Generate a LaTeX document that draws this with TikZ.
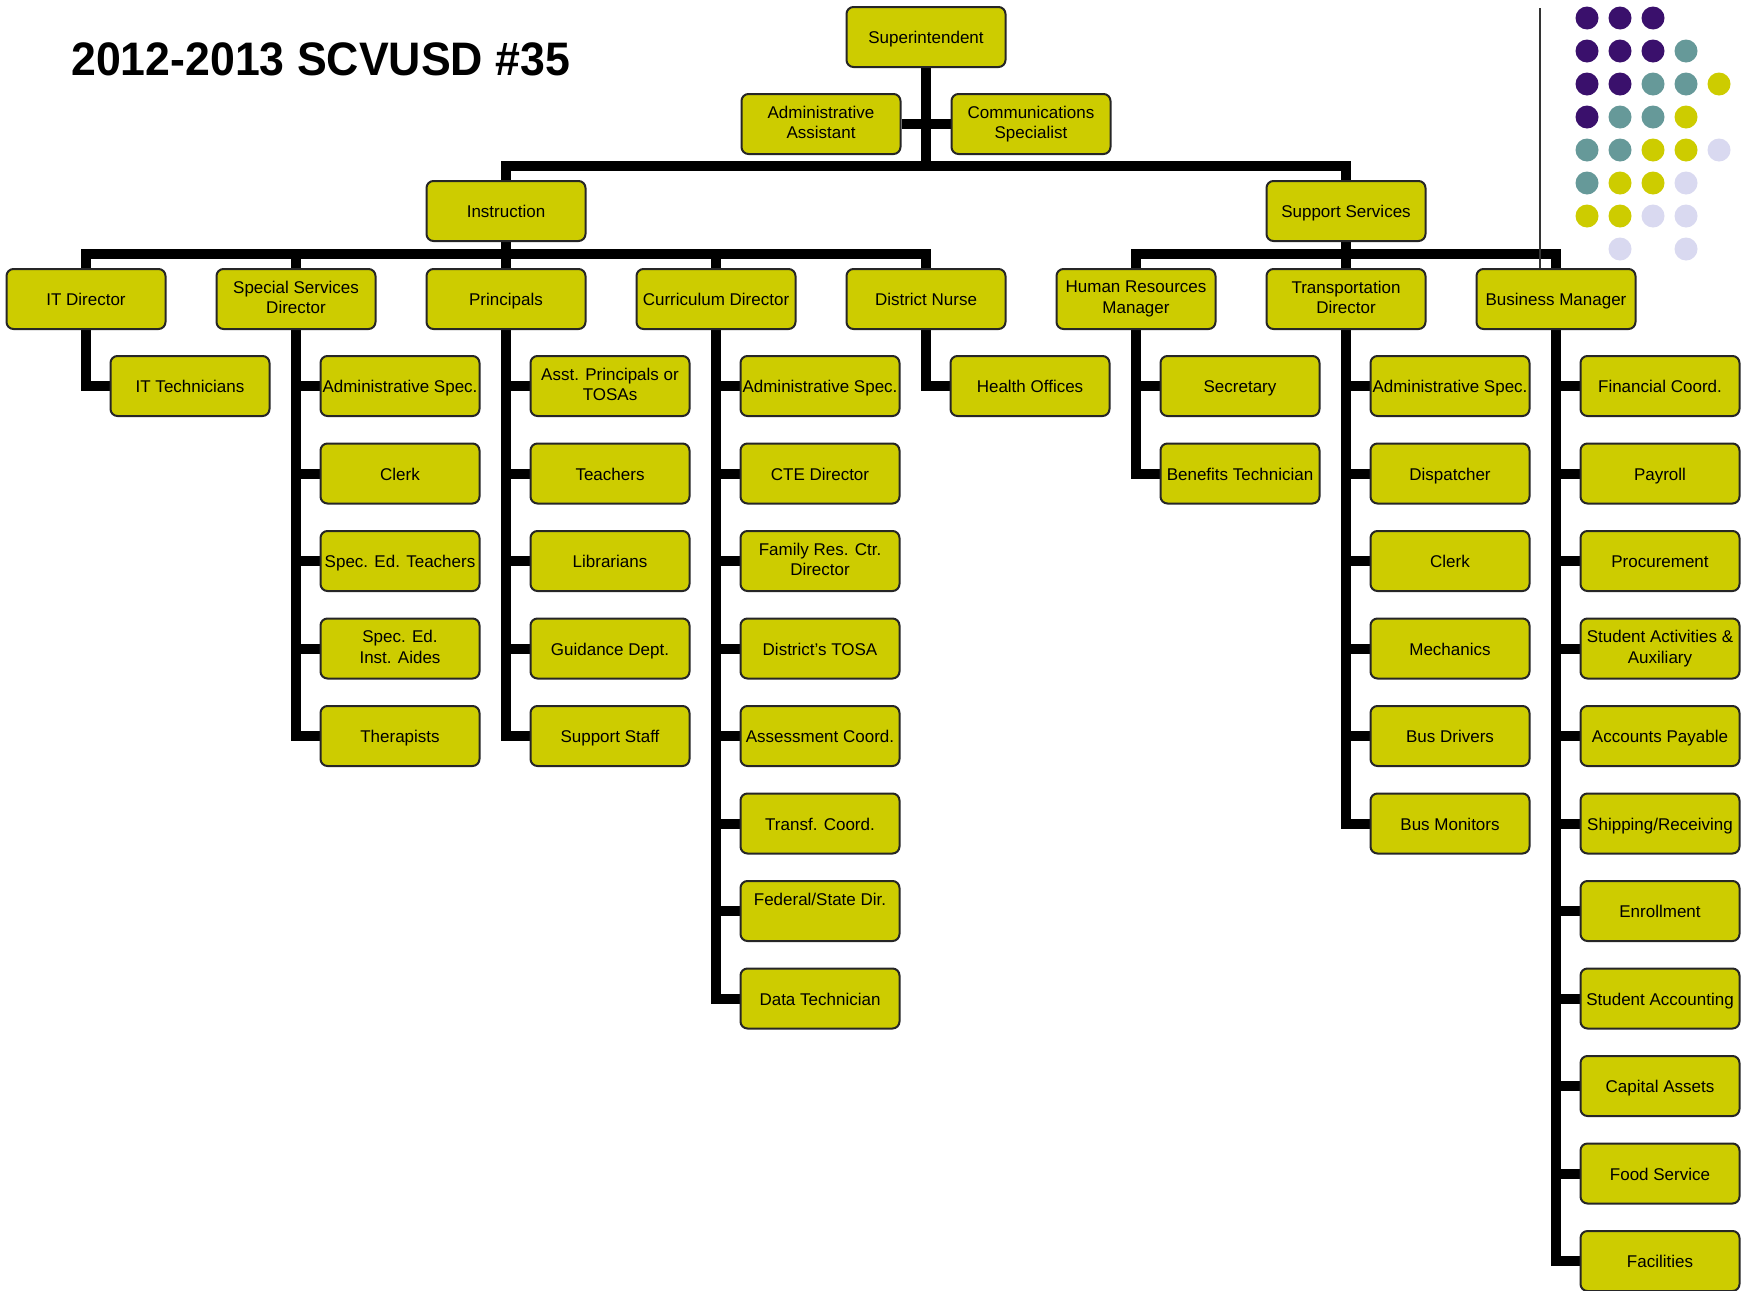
\documentclass[tikz,border=0pt]{standalone}
\usepackage{fontspec}
\setmainfont{Liberation Sans}
\definecolor{boxfill}{RGB}{205,204,0}
\definecolor{dotP}{RGB}{58,16,108}
\definecolor{dotT}{RGB}{102,153,153}
\definecolor{dotY}{RGB}{205,204,0}
\definecolor{dotL}{RGB}{217,217,240}
\pgfdeclarelayer{bg}
\pgfdeclarelayer{lines}
\pgfsetlayers{bg,lines,main}
\newcommand{\boxstrut}{\rule[-3.65pt]{0pt}{20.5pt}}
\tikzset{
  box/.style={draw=black!85, line width=2pt, fill=boxfill, rounded corners=7pt,
    minimum width=159pt, minimum height=60pt, inner xsep=0pt, inner ysep=1pt,
    align=center, font=\fontsize{17}{20.5}\selectfont, text=black,
    execute at begin node={\boxstrut}, execute at end node={\boxstrut}},
  conn/.style={line width=10pt, black},
}
\begin{document}
\begin{tikzpicture}[x=1pt,y=-1pt]
\begin{pgfonlayer}{bg}
\fill[white] (0,0) rectangle (1741,1291);
\end{pgfonlayer}
\useasboundingbox (0,0) rectangle (1741,1291);

% title
\node[anchor=base west, inner sep=0pt, font=\fontsize{47}{50}\bfseries\selectfont, xscale=0.95] (title) at (71,75) {2012-2013 SCVUSD \#35};

% decoration dots
\foreach \c/\r/\col in {0/0/dotP,1/0/dotP,2/0/dotP,
  0/1/dotP,1/1/dotP,2/1/dotP,3/1/dotT,
  0/2/dotP,1/2/dotP,2/2/dotT,3/2/dotT,4/2/dotY,
  0/3/dotP,1/3/dotT,2/3/dotT,3/3/dotY,
  0/4/dotT,1/4/dotT,2/4/dotY,3/4/dotY,4/4/dotL,
  0/5/dotT,1/5/dotY,2/5/dotY,3/5/dotL,
  0/6/dotY,1/6/dotY,2/6/dotL,3/6/dotL,
  1/7/dotL,3/7/dotL}
  \fill[\col] ({1587+33*\c},{18+33*\r}) circle (11.5pt);

% top levels
\node[box] (sup) at (926,37) {Superintendent};
\node[box] (aa) at (821,124) {Administrative\\Assistant};
\node[box] (cs) at (1031,124) {Communications\\Specialist};
\node[box] (ins) at (506,211) {Instruction};
\node[box] (sus) at (1346,211) {Support Services};

\node[box] (itd) at (86,299) {IT Director};
\node[box] (ssd) at (296,299) {Special Services\\Director};
\node[box] (pri) at (506,299) {Principals};
\node[box] (cur) at (716,299) {Curriculum Director};
\node[box] (nur) at (926,299) {District Nurse};
\node[box] (hrm) at (1136,299) {Human Resources\\Manager};
\node[box] (trd) at (1346,299) {Transportation\\Director};
\node[box] (bus) at (1556,299) {Business Manager};

% IT
\node[box] (it1) at (190,386) {IT Technicians};
% Special services
\node[box] (ss1) at (400,386) {Administrative Spec.};
\node[box] (ss2) at (400,473.5) {Clerk};
\node[box] (ss3) at (400,561) {Spec. Ed. Teachers};
\node[box] (ss4) at (400,648.5) {Spec. Ed.\\Inst. Aides};
\node[box] (ss5) at (400,736) {Therapists};
% Principals
\node[box] (pr1) at (610,386) {Asst. Principals or\\TOSAs};
\node[box] (pr2) at (610,473.5) {Teachers};
\node[box] (pr3) at (610,561) {Librarians};
\node[box] (pr4) at (610,648.5) {Guidance Dept.};
\node[box] (pr5) at (610,736) {Support Staff};
% Curriculum
\node[box] (cu1) at (820,386) {Administrative Spec.};
\node[box] (cu2) at (820,473.5) {CTE Director};
\node[box] (cu3) at (820,561) {Family Res. Ctr.\\Director};
\node[box] (cu4) at (820,648.5) {District's TOSA};
\node[box] (cu5) at (820,736) {Assessment Coord.};
\node[box] (cu6) at (820,823.5) {Transf. Coord.};
\node[box] (cu7) at (820,911) {Federal/State Dir.\\\phantom{g}};
\node[box] (cu8) at (820,998.5) {Data Technician};
% Nurse
\node[box] (nu1) at (1030,386) {Health Offices};
% HR
\node[box] (hr1) at (1240,386) {Secretary};
\node[box] (hr2) at (1240,473.5) {Benefits Technician};
% Transportation
\node[box] (tr1) at (1450,386) {Administrative Spec.};
\node[box] (tr2) at (1450,473.5) {Dispatcher};
\node[box] (tr3) at (1450,561) {Clerk};
\node[box] (tr4) at (1450,648.5) {Mechanics};
\node[box] (tr5) at (1450,736) {Bus Drivers};
\node[box] (tr6) at (1450,823.5) {Bus Monitors};
% Business
\node[box] (bu1) at (1660,386) {Financial Coord.};
\node[box] (bu2) at (1660,473.5) {Payroll};
\node[box] (bu3) at (1660,561) {Procurement};
\node[box] (bu4) at (1660,648.5) {Student Activities \&\\Auxiliary};
\node[box] (bu5) at (1660,736) {Accounts Payable};
\node[box] (bu6) at (1660,823.5) {Shipping/Receiving};
\node[box] (bu7) at (1660,911) {Enrollment};
\node[box] (bu8) at (1660,998.5) {Student Accounting};
\node[box] (bu9) at (1660,1086) {Capital Assets};
\node[box] (bu10) at (1660,1173.5) {Food Service};
\node[box] (bu11) at (1660,1261) {Facilities};

% connectors
\begin{pgfonlayer}{lines}
\coordinate (bar1) at (926,166);
\coordinate (bar2) at (506,254);
\coordinate (bar3) at (1346,254);
\draw[conn] (sup.south) -- (bar1);
\draw[conn] (aa.east) -- (cs.west);
\draw[conn] (ins.north) |- (bar1) -| (sus.north);
\draw[conn] (ins.south) -- (bar2);
\draw[conn] (itd.north) |- (bar2) -| (nur.north);
\foreach \n in {ssd,pri,cur} \draw[conn] (\n.north) -- (\n.north |- bar2);
\draw[conn] (sus.south) -- (bar3);
\draw[conn] (hrm.north) |- (bar3) -| (bus.north);
\draw[conn] (trd.north) -- (trd.north |- bar3);

\draw[conn] (itd.south) |- (it1.west);
\draw[conn] (nur.south) |- (nu1.west);
\draw[conn] (ssd.south) |- (ss5.west);
\foreach \i in {1,...,4} \draw[conn] (ss\i.west) -- (ss\i.west -| ssd.south);
\draw[conn] (pri.south) |- (pr5.west);
\foreach \i in {1,...,4} \draw[conn] (pr\i.west) -- (pr\i.west -| pri.south);
\draw[conn] (cur.south) |- (cu8.west);
\foreach \i in {1,...,7} \draw[conn] (cu\i.west) -- (cu\i.west -| cur.south);
\draw[conn] (hrm.south) |- (hr2.west);
\draw[conn] (hr1.west) -- (hr1.west -| hrm.south);
\draw[conn] (trd.south) |- (tr6.west);
\foreach \i in {1,...,5} \draw[conn] (tr\i.west) -- (tr\i.west -| trd.south);
\draw[conn] (bus.south) |- (bu11.west);
\foreach \i in {1,...,10} \draw[conn] (bu\i.west) -- (bu\i.west -| bus.south);
\end{pgfonlayer}

% thin decorative rule
\draw[line width=1.5pt, black!80] (1540,8) -- (1540,268);
\end{tikzpicture}
\end{document}
